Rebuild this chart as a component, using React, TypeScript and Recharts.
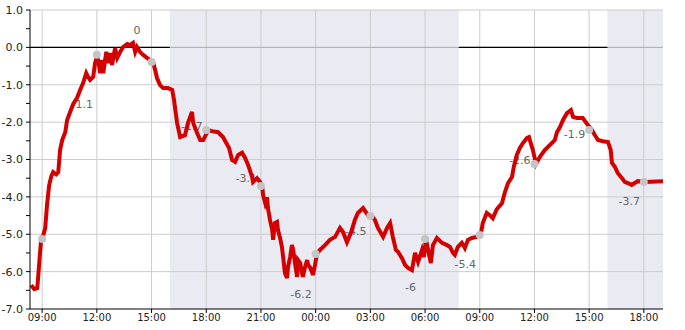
import React from 'react';
import {
  ComposedChart, Line, Scatter, XAxis, YAxis, CartesianGrid, ReferenceArea, ReferenceLine,
} from 'recharts';

// time in minutes from midnight of day 1
const times = [
  504, 514, 524, 530, 537, 543, 550, 556, 563, 570, 576, 586, 593, 599, 606, 616, 622, 632, 642, 655,
  665, 675, 685, 691, 698, 708, 714, 721, 727, 731, 737, 741, 751, 757, 764, 770, 780, 787, 797, 806,
  820, 829, 839, 846, 852, 862, 872, 885, 895, 905, 912, 918, 928, 938, 954, 968, 974, 977, 984, 994,
  1010, 1020, 1033, 1037, 1050, 1060, 1070, 1083, 1086, 1099, 1119, 1135, 1155, 1165, 1175, 1185, 1198, 1208, 1218, 1231,
  1234, 1247, 1257, 1264, 1267, 1274, 1280, 1283, 1290, 1297, 1300, 1306, 1313, 1316, 1323, 1329, 1333, 1339, 1346, 1349,
  1356, 1362, 1366, 1372, 1379, 1382, 1389, 1395, 1398, 1405, 1412, 1415, 1421, 1428, 1431, 1438, 1444, 1454, 1471, 1487,
  1504, 1520, 1530, 1543, 1556, 1569, 1579, 1596, 1612, 1625, 1635, 1645, 1662, 1675, 1685, 1694, 1704, 1711, 1724, 1734,
  1744, 1757, 1760, 1767, 1777, 1790, 1796, 1803, 1810, 1819, 1826, 1839, 1856, 1872, 1882, 1892, 1898, 1908, 1921, 1931,
  1941, 1954, 1970, 1983, 1990, 2003, 2013, 2023, 2036, 2053, 2063, 2073, 2086, 2092, 2102, 2112, 2122, 2135, 2142, 2155,
  2165, 2178, 2194, 2211, 2227, 2234, 2244, 2254, 2267, 2280, 2287, 2300, 2319, 2336, 2349, 2359, 2369, 2385, 2402, 2411,
  2415, 2425, 2434, 2448, 2457, 2467, 2480, 2490, 2500, 2523, 2583,
];

const temps = [
  -6.36, -6.47, -6.44, -5.82, -5.10, -5.05, -4.84, -4.22, -3.69, -3.45, -3.34, -3.40, -3.34, -2.75, -2.48, -2.27, -1.95, -1.73, -1.52, -1.35,
  -1.14, -0.95, -0.69, -0.79, -0.87, -0.79, -0.42, -0.23, -0.47, -0.69, -0.34, -0.69, -0.12, -0.42, -0.15, -0.47, -0.02, -0.28, -0.12, 0.01,
  0.09, 0.06, 0.12, -0.12, 0.01, -0.12, -0.20, -0.28, -0.34, -0.39, -0.61, -0.82, -1.01, -1.09, -1.09, -1.14, -1.41, -1.60, -2.02, -2.40,
  -2.35, -2.02, -1.73, -2.02, -2.29, -2.48, -2.48, -2.27, -2.21, -2.24, -2.27, -2.40, -2.69, -3.01, -3.06, -2.88, -2.82, -2.96, -3.15, -3.47,
  -3.60, -3.50, -3.60, -3.71, -3.95, -4.17, -4.01, -4.30, -4.62, -4.89, -5.15, -4.70, -4.67, -4.89, -5.10, -5.34, -5.61, -6.04, -6.17, -5.88,
  -5.61, -5.29, -5.42, -5.77, -6.14, -5.69, -5.77, -6.04, -6.14, -5.88, -5.69, -5.82, -5.88, -6.01, -6.09, -5.82, -5.53, -5.42, -5.29, -5.15,
  -5.07, -4.83, -4.94, -5.21, -4.96, -4.62, -4.43, -4.30, -4.49, -4.51, -4.62, -4.83, -5.07, -4.83, -4.70, -5.07, -5.42, -5.47, -5.64, -5.82,
  -5.90, -5.96, -5.82, -5.50, -5.74, -5.42, -5.61, -5.13, -5.42, -5.77, -5.29, -5.10, -5.23, -5.29, -5.34, -5.50, -5.55, -5.34, -5.23, -5.37,
  -5.15, -5.10, -5.07, -5.02, -4.70, -4.43, -4.49, -4.57, -4.33, -4.17, -3.87, -3.63, -3.47, -3.20, -2.88, -2.69, -2.56, -2.43, -2.40, -2.75,
  -3.12, -2.93, -2.75, -2.61, -2.48, -2.27, -2.13, -1.94, -1.76, -1.68, -1.86, -1.89, -1.89, -2.08, -2.21, -2.35, -2.48, -2.51, -2.53, -2.75,
  -3.09, -3.20, -3.36, -3.50, -3.60, -3.63, -3.68, -3.63, -3.58, -3.60, -3.58,
];

const dotTimes = [540, 720, 900, 1080, 1260, 1440, 1620, 1800, 1980, 2160, 2340, 2520];
const dotValues = [-5.13, -0.2, -0.39, -2.21, -3.71, -5.53, -4.51, -5.13, -5.02, -3.12, -2.21, -3.6];

const labelTimes = [672, 852, 1032, 1212, 1392, 1572, 1752, 1932, 2112, 2292, 2472];
const labelValues = [-1.1, 0, -1.7, -3.1, -6.2, -4.5, -6, -5.4, -2.6, -1.9, -3.7];
const labelAbove = [false, true, false, false, false, false, false, false, false, false, false];

const xTicks = [540, 720, 900, 1080, 1260, 1440, 1620, 1800, 1980, 2160, 2340, 2520];
const yTicks = [-7, -6.5, -6, -5.5, -5, -4.5, -4, -3.5, -3, -2.5, -2, -1.5, -1, -0.5, 0, 0.5, 1];
const yGrid = [-6, -5, -4, -3, -2, -1, 1];

const nights = [
  [960, 1911],
  [2400, 2583],
];
const dayZeroSegments = [
  [500, 960],
  [1911, 2400],
];

const X_DOMAIN = [500, 2583];

const lineData = times.map((t, i) => ({ t, v: temps[i] }));
const dotData = dotTimes.map((t, i) => ({ t, v: dotValues[i] }));
const labelData = labelTimes.map((t, i) => ({
  t,
  v: labelAbove[i] ? labelValues[i] + 0.44 : labelValues[i] - 0.42,
  text: String(labelValues[i]),
}));

const fmtTime = (m: number) => {
  const h = Math.floor(m / 60) % 24;
  return (h < 10 ? '0' : '') + h + ':00';
};

const FONT = 'DejaVu Sans';

const LabelShape = (props: any) => (
  <text
    x={props.cx}
    y={props.cy}
    textAnchor="middle"
    dominantBaseline="central"
    fontSize={11}
    fontFamily={FONT}
    fill="#666666"
  >
    {props.payload.text}
  </text>
);

const DotShape = (props: any) => <circle cx={props.cx} cy={props.cy} r={4} fill="#c4c4c4" />;

export default function App() {
  return (
    <div style={{ position: 'absolute', left: 0, top: 0, width: 685, height: 330, background: '#fff' }}>
      <ComposedChart
        width={685}
        height={330}
        margin={{ top: 10, right: 22, bottom: 0, left: 0 }}
        style={{ fontFamily: FONT }}
      >
        {nights.map(([a, b], i) => (
          <ReferenceArea
            key={'n' + i}
            x1={a}
            x2={b}
            y1={-7}
            y2={1}
            fill="#eaeaf2"
            fillOpacity={1}
            stroke="none"
            ifOverflow="hidden"
            zIndex={-200}
          />
        ))}
        <CartesianGrid
          stroke="#cccccc"
          strokeWidth={1}
          horizontalValues={yGrid}
          verticalValues={xTicks}
        />
        <XAxis
          dataKey="t"
          type="number"
          domain={X_DOMAIN}
          allowDataOverflow
          ticks={xTicks}
          tickFormatter={fmtTime}
          interval={0}
          height={21}
          tickSize={4}
          tickMargin={1}
          stroke="#000"
          tick={{ fill: '#222', fontSize: 10, fontFamily: FONT }}
        />
        <YAxis
          type="number"
          domain={[-7, 1]}
          allowDataOverflow
          ticks={yTicks}
          interval={0}
          tickFormatter={(v: number) => (Number.isInteger(v) ? v.toFixed(1) : '')}
          width={30}
          tickSize={4}
          tickMargin={3}
          stroke="#000"
          tick={{ fill: '#222', fontSize: 11, fontFamily: FONT }}
        />
        <ReferenceLine y={0} stroke="#aaaaaa" strokeWidth={1} zIndex={-50} />
        {dayZeroSegments.map(([a, b], i) => (
          <ReferenceLine
            key={'z' + i}
            segment={[{ x: a, y: 0 }, { x: b, y: 0 }]}
            stroke="#000"
            strokeWidth={1.3}
            zIndex={-40}
          />
        ))}
        <Scatter
          data={labelData}
          dataKey="v"
          shape={LabelShape}
          isAnimationActive={false}
          zIndex={350}
        />
        <Line
          data={lineData}
          dataKey="v"
          type="linear"
          stroke="#d40000"
          strokeWidth={4}
          strokeLinejoin="miter"
          dot={false}
          activeDot={false}
          isAnimationActive={false}
          zIndex={400}
        />
        <Scatter
          data={dotData}
          dataKey="v"
          shape={DotShape}
          isAnimationActive={false}
          zIndex={600}
        />
      </ComposedChart>
    </div>
  );
}
